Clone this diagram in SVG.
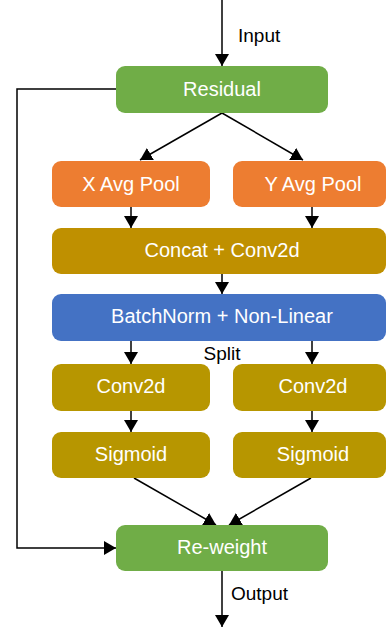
<svg xmlns="http://www.w3.org/2000/svg" width="387" height="627" viewBox="0 0 387 627">
  <style>
    text { font-family: "Liberation Sans", Arial, sans-serif; font-size: 19px; text-anchor: middle; }
    .box text { fill: #ffffff; font-size: 20px; }
    .lbl { fill: #000000; text-anchor: start; }
    .green { fill: #70AD47; }
    .orange { fill: #ED7D31; }
    .gold { fill: #BF9000; }
    .olive { fill: #B79600; }
    .blue { fill: #4472C4; }
    .edge { fill: none; stroke: #000000; stroke-width: 1.5; marker-end: url(#arrow); }
  </style>
  <defs>
    <marker id="arrow" viewBox="0 0 12 14" refX="12" refY="7" markerWidth="12" markerHeight="14" markerUnits="userSpaceOnUse" orient="auto">
      <path d="M0,0 L12,7 L0,14 Z" fill="#000000"/>
    </marker>
  </defs>

  <g id="connectors">
    <line class="edge" x1="222" y1="0" x2="222" y2="66"/>
    <line class="edge" x1="222" y1="113" x2="140" y2="160"/>
    <line class="edge" x1="222" y1="113" x2="303" y2="160"/>
    <line class="edge" x1="131" y1="207" x2="131" y2="228"/>
    <line class="edge" x1="312" y1="207" x2="312" y2="228"/>
    <line class="edge" x1="222" y1="274" x2="222" y2="294"/>
    <line class="edge" x1="131" y1="341" x2="131" y2="364"/>
    <line class="edge" x1="312" y1="341" x2="312" y2="364"/>
    <line class="edge" x1="131" y1="411" x2="131" y2="432"/>
    <line class="edge" x1="312" y1="411" x2="312" y2="432"/>
    <line class="edge" x1="134" y1="478" x2="216" y2="525"/>
    <line class="edge" x1="311" y1="478" x2="229" y2="525"/>
    <polyline class="edge" points="116,89 17,89 17,548 116,548"/>
    <line class="edge" x1="222" y1="571" x2="222" y2="627"/>
    <text class="lbl" x="238" y="42">Input</text>
    <text x="222" y="360" style="fill:#000000">Split</text>
    <text class="lbl" x="231" y="600">Output</text>
  </g>

  <g id="residual" class="box">
    <rect class="green" x="116" y="66" width="212" height="47" rx="9"/>
    <text x="222" y="96">Residual</text>
  </g>
  <g id="x-avg-pool" class="box">
    <rect class="orange" x="52" y="161" width="158" height="46" rx="9"/>
    <text x="131" y="191">X Avg Pool</text>
  </g>
  <g id="y-avg-pool" class="box">
    <rect class="orange" x="233" y="161" width="153" height="46" rx="9"/>
    <text x="313" y="191">Y Avg Pool</text>
  </g>
  <g id="concat-conv2d" class="box">
    <rect class="gold" x="52" y="228" width="334" height="46" rx="9"/>
    <text x="222" y="257">Concat + Conv2d</text>
  </g>
  <g id="batchnorm" class="box">
    <rect class="blue" x="52" y="294" width="334" height="47" rx="9"/>
    <text x="222" y="323">BatchNorm + Non-Linear</text>
  </g>
  <g id="conv2d-left" class="box">
    <rect class="olive" x="52" y="364" width="158" height="47" rx="9"/>
    <text x="131" y="393">Conv2d</text>
  </g>
  <g id="conv2d-right" class="box">
    <rect class="olive" x="233" y="364" width="153" height="47" rx="9"/>
    <text x="313" y="393">Conv2d</text>
  </g>
  <g id="sigmoid-left" class="box">
    <rect class="olive" x="52" y="432" width="158" height="46" rx="9"/>
    <text x="131" y="461">Sigmoid</text>
  </g>
  <g id="sigmoid-right" class="box">
    <rect class="olive" x="233" y="432" width="153" height="46" rx="9"/>
    <text x="313" y="461">Sigmoid</text>
  </g>
  <g id="re-weight" class="box">
    <rect class="green" x="116" y="525" width="212" height="46" rx="9"/>
    <text x="222" y="554">Re-weight</text>
  </g>
</svg>
